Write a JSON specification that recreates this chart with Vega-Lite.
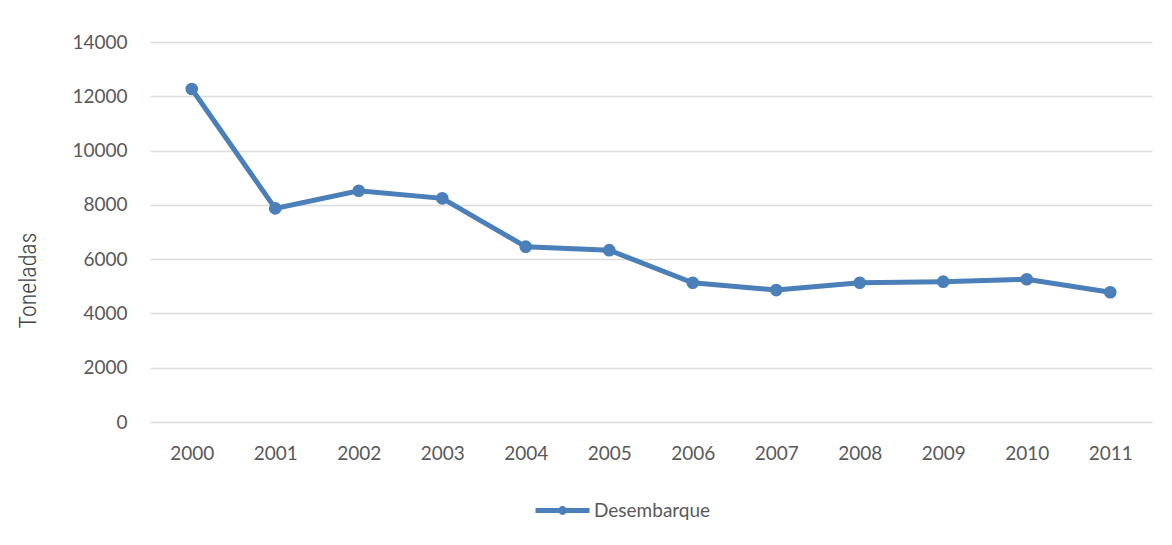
{
  "$schema": "https://vega.github.io/schema/vega-lite/v6.json",
  "autosize": "none",
  "width": 1002,
  "height": 380,
  "padding": {"left": 150, "top": 42, "right": 20, "bottom": 123},
  "background": "white",
  "config": {"view": {"stroke": null}},
  "data": {
    "values": [
      {"ano": "2000", "toneladas": 12270, "serie": "Desembarque"},
      {"ano": "2001", "toneladas": 7870, "serie": "Desembarque"},
      {"ano": "2002", "toneladas": 8520, "serie": "Desembarque"},
      {"ano": "2003", "toneladas": 8240, "serie": "Desembarque"},
      {"ano": "2004", "toneladas": 6460, "serie": "Desembarque"},
      {"ano": "2005", "toneladas": 6330, "serie": "Desembarque"},
      {"ano": "2006", "toneladas": 5130, "serie": "Desembarque"},
      {"ano": "2007", "toneladas": 4860, "serie": "Desembarque"},
      {"ano": "2008", "toneladas": 5130, "serie": "Desembarque"},
      {"ano": "2009", "toneladas": 5170, "serie": "Desembarque"},
      {"ano": "2010", "toneladas": 5260, "serie": "Desembarque"},
      {"ano": "2011", "toneladas": 4780, "serie": "Desembarque"}
    ]
  },
  "mark": {
    "type": "line",
    "strokeWidth": 5,
    "point": {"filled": true, "size": 160}
  },
  "encoding": {
    "x": {
      "field": "ano",
      "type": "ordinal",
      "scale": {"type": "point", "padding": 0.5},
      "axis": {
        "title": null,
        "domain": false,
        "ticks": false,
        "grid": false,
        "labelAngle": 0,
        "labelFont": "Lato",
        "labelFontSize": 19,
        "labelColor": "#595959",
        "labelBaseline": "middle",
        "labelPadding": 31
      }
    },
    "y": {
      "field": "toneladas",
      "type": "quantitative",
      "scale": {"domain": [0, 14000], "nice": false},
      "axis": {
        "title": "Toneladas",
        "values": [0, 2000, 4000, 6000, 8000, 10000, 12000, 14000],
        "format": "d",
        "domain": false,
        "ticks": false,
        "grid": true,
        "gridColor": "#dcdcdc",
        "gridWidth": 1.5,
        "labelFont": "Lato",
        "labelFontSize": 19,
        "labelColor": "#595959",
        "labelPadding": 23,
        "titleFont": "Roboto Condensed, Liberation Sans Narrow, Liberation Sans",
        "titleFontSize": 24,
        "titleFontWeight": 300,
        "titleColor": "#404040",
        "titleX": -122,
        "titleY": 238,
        "titleAngle": -90,
        "titleAlign": "center",
        "titleBaseline": "middle"
      }
    },
    "color": {
      "field": "serie",
      "type": "nominal",
      "scale": {"range": ["#4a7fb9"]},
      "legend": {
        "title": null,
        "orient": "none",
        "legendX": 383,
        "legendY": 439,
        "padding": 0,
        "symbolType": "M-1,0H1M-0.07,0A0.07,0.07 0 1,1 0.07,0A0.07,0.07 0 1,1 -0.07,0Z",
        "symbolSize": 2916,
        "symbolStrokeWidth": 5,
        "labelFont": "Lato",
        "labelFontSize": 19,
        "labelColor": "#595959",
        "labelOffset": 2,
        "encode": {
          "symbols": {"update": {"fill": {"value": "#4a7fb9"}, "stroke": {"value": "#4a7fb9"}}}
        }
      }
    }
  }
}
